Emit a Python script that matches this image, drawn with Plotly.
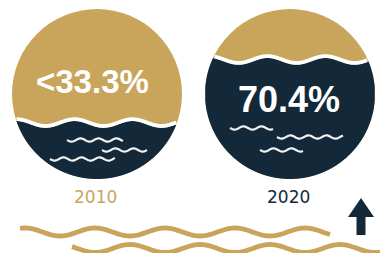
import numpy as np
import plotly.graph_objects as go

# ---- data ----
years = ["2010", "2020"]
values = [33.3, 70.4]
value_labels = ["<33.3%", "70.4%"]

# ---- style ----
GOLD = "#C9A55C"
NAVY = "#13293A"
W, H = 380, 253
centers_x = [97, 290]
center_y = 94
R = 85

fig = go.Figure()
shapes = []


def path_from(xs, ys, close=False):
    pts = " L ".join(f"{x:.2f},{y:.2f}" for x, y in zip(xs, ys))
    return "M " + pts + (" Z" if close else "")


def wave(x, level, amp, lam, x0):
    return level + amp * np.sin(2 * np.pi * (x - x0) / lam)


for i, (yr, val) in enumerate(zip(years, values)):
    cx = centers_x[i]
    shapes.append(dict(type="circle", xref="x", yref="y", x0=cx - R, x1=cx + R,
                       y0=center_y - R, y1=center_y + R, fillcolor=GOLD,
                       line=dict(width=0), layer="below"))
    level = center_y + R - val / 100 * 2 * R + 2
    xs = np.linspace(cx - R, cx + R, 600)
    half = np.sqrt(np.clip(R ** 2 - (xs - cx) ** 2, 0, None))
    ctop = center_y - half
    cbot = center_y + half
    wy = wave(xs, level, 3.4, 58, cx - 8)
    top = np.maximum(wy, ctop)
    ok = top < cbot
    tx, ty, bx, by = xs[ok], top[ok], xs[ok][::-1], cbot[ok][::-1]
    shapes.append(dict(type="path", xref="x", yref="y",
                       path=path_from(np.concatenate([tx, bx]), np.concatenate([ty, by]), True),
                       fillcolor=NAVY, line=dict(width=0), layer="below"))
    wb = wy - 1.8
    ok2 = (wb > ctop + 1.5) & (wb < cbot - 1.5)
    shapes.append(dict(type="path", xref="x", yref="y",
                       path=path_from(xs[ok2], wb[ok2]),
                       line=dict(color="white", width=3.8), layer="below"))

# small squiggles inside water (decoration, relative to circle centre)
squiggles = [
    [(-30, 26, 46), (5, 50, 56), (-47, 18, 65)],
    [(-60, -17, 34), (-13, 53, 43), (-30, 13, 56)],
]
for i, sq in enumerate(squiggles):
    cx = centers_x[i]
    for (a, b, dy) in sq:
        xs = np.linspace(cx + a, cx + b, 80)
        ys = center_y + dy + 1.6 * np.sin(2 * np.pi * (xs - xs[0]) / 18)
        shapes.append(dict(type="path", xref="x", yref="y", path=path_from(xs, ys),
                           line=dict(color="#F2F2F2", width=2.2)))

# bottom gold wavy lines
for (x_a, x_b, yc, x0) in [(20, 330, 232, 42.5), (72, 380, 248.5, 77.5)]:
    xs = np.linspace(x_a, x_b, 400)
    ys = yc + 4 * np.sin(2 * np.pi * (xs - x0) / 70)
    shapes.append(dict(type="path", xref="x", yref="y", path=path_from(xs, ys),
                       line=dict(color=GOLD, width=4.8)))

# up arrow
ax = [361, 374, 365.5, 365.5, 356.5, 356.5, 348]
ay = [198, 217, 217, 235, 235, 217, 217]
shapes.append(dict(type="path", xref="x", yref="y", path=path_from(ax, ay, True),
                   fillcolor=NAVY, line=dict(width=0)))

annotations = [
    dict(x=centers_x[0] - 5, y=81.5, text=value_labels[0], showarrow=False,
         font=dict(family="Liberation Sans", size=33, color="white", weight="bold"),
         xanchor="center", yanchor="middle"),
    dict(x=centers_x[1] - 1, y=99.5, text=value_labels[1], showarrow=False,
         font=dict(family="Liberation Sans", size=36, color="white", weight="bold"),
         xanchor="center", yanchor="middle"),
    dict(x=95, y=197, text=years[0], showarrow=False,
         font=dict(family="DejaVu Sans", size=17, color=GOLD),
         xanchor="center", yanchor="middle"),
    dict(x=288.5, y=197, text=years[1], showarrow=False,
         font=dict(family="DejaVu Sans", size=17, color=NAVY),
         xanchor="center", yanchor="middle"),
]

fig.update_layout(
    width=W, height=H, margin=dict(l=0, r=0, t=0, b=0),
    paper_bgcolor="white", plot_bgcolor="white",
    xaxis=dict(range=[0, W], visible=False, fixedrange=True),
    yaxis=dict(range=[H, 0], visible=False, fixedrange=True),
    shapes=shapes, annotations=annotations, showlegend=False,
)
fig.write_html("out.html", config={"displayModeBar": False},
               post_script="document.body.style.margin='0';document.body.style.overflow='hidden';")
